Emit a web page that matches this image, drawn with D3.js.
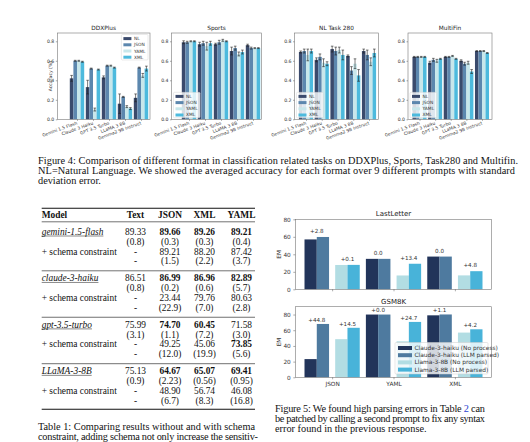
<!DOCTYPE html>
<html><head><meta charset="utf-8">
<script src="https://cdn.jsdelivr.net/npm/d3@7"></script>
<style>body{margin:0;background:#fff}svg{display:block}</style>
</head><body><svg id="c" width="530" height="442"></svg>
<script>
// ---------------- DATA ----------------
const models = ["Gemini 1.5 Flash","Claude 3 Haiku","GPT 3.5 Turbo","LLaMA 3 8B","Gemma2 9B Instruct"];
const formats = ["NL","JSON","YAML","XML"];
const yTicksTop = [0,0.2,0.4,0.6,0.8];

const ddxMean = [[0.42,0.60,0.60,0.59],[0.33,0.52,0.10,0.51],[0.43,0.55,0.55,0.53],[0.16,0.23,0.13,0.11],[0.22,0.53,0.45,0.52]];
const ddxErr  = [[0.03,0.005,0.005,0.005],[0.07,0.005,0.015,0.005],[0.015,0.005,0.005,0.005],[0.10,0.005,0.01,0.01],[0.04,0.005,0.02,0.025]];
const sportsMean = [[0.79,0.79,0.80,0.80],[0.77,0.78,0.75,0.78],[0.77,0.79,0.81,0.80],[0.70,0.73,0.67,0.69],[0.76,0.73,0.73,0.73]];
const sportsErr  = [[0.015,0.01,0.005,0.005],[0.02,0.02,0.04,0.02],[0.01,0.02,0.01,0.005],[0.04,0.02,0.02,0.02],[0.01,0.01,0.005,0.005]];
const taskMean = [[0.69,0.70,0.66,0.70],[0.61,0.64,0.58,0.57],[0.72,0.70,0.71,0.66],[0.65,0.50,0.57,0.45],[0.70,0.66,0.59,0.68]];
const taskErr  = [[0.01,0.02,0.06,0.02],[0.02,0.03,0.04,0.02],[0.03,0.04,0.03,0.05],[0.01,0.04,0.05,0.06],[0.02,0.05,0.04,0.04]];
const multiMean = [[0.64,0.64,0.64,0.64],[0.58,0.61,0.60,0.62],[0.64,0.64,0.65,0.62],[0.60,0.57,0.58,0.49],[0.70,0.70,0.70,0.68]];
const multiErr  = [[0.005,0.005,0.005,0.005],[0.015,0.015,0.015,0.005],[0.005,0.005,0.005,0.005],[0.01,0.015,0.015,0.02],[0.005,0.005,0.005,0.005]];
const topTitles = ["DDXPlus","Sports","NL Task 280","MultiFin"];

const fig5Formats = ["JSON","YAML","XML"];
const fig5Series = ["Claude-3-haiku (No process)","Claude-3-haiku (LLM parsed)","Llama-3-8B (No process)","Llama-3-8B (LLM parsed)"];
const lastClaudeNo = [57.0,34.8,37.4];
const lastClaudeParsed = [59.8,34.8,37.4];
const lastLlamaNo = [27.8,15.8,15.9];
const lastLlamaParsed = [27.9,29.2,20.7];
const lastClaudeLabels = ["+2.8","0.0","0.0"];
const lastLlamaLabels = ["+0.1","+13.4","+4.8"];
const gsmClaudeNo = [23.2,80.0,79.0];
const gsmClaudeParsed = [68.0,80.0,80.1];
const gsmLlamaNo = [48.6,45.9,57.0];
const gsmLlamaParsed = [63.1,70.6,61.2];
const gsmClaudeLabels = ["+44.8","+0.0","+1.1"];
const gsmLlamaLabels = ["+14.5","+24.7","+4.2"];
const fig5YTicks = [0,20,40,60,80];

const tableModels = ["gemini-1.5-flash","claude-3-haiku","gpt-3.5-turbo","LLaMA-3-8B"];
const tableCols = ["Text","JSON","XML","YAML"];
const baseScore = [["89.33","89.66","89.26","89.21"],["86.51","86.99","86.96","82.89"],["75.99","74.70","60.45","71.58"],["75.13","64.67","65.07","69.41"]];
const baseStd = [["(0.8)","(0.3)","(0.3)","(0.4)"],["(0.8)","(0.2)","(0.6)","(5.7)"],["(3.1)","(1.1)","(7.2)","(3.0)"],["(0.9)","(2.23)","(0.56)","(0.95)"]];
const schemaScore = [["-","89.21","88.20","87.42"],["-","23.44","79.76","80.63"],["-","49.25","45.06","73.85"],["-","48.90","56.74","46.08"]];
const schemaStd = [["-","(1.5)","(2.2)","(3.7)"],["-","(22.9)","(7.0)","(2.8)"],["-","(12.0)","(19.9)","(5.6)"],["-","(6.7)","(8.3)","(16.8)"]];
const baseBold = [[0,1,1,1],[0,1,1,1],[0,1,1,0],[0,1,1,1]];
const schemaBold = [[0,0,0,0],[0,0,0,0],[0,0,0,1],[0,0,0,0]];

const fig4Caption = ["Figure 4: Comparison of different format in classification related tasks on DDXPlus, Sports, Task280 and Multifin.",
 "NL=Natural Language. We showed the averaged accuracy for each format over 9 different prompts with standard",
 "deviation error."];
const tab1Caption = ["Table 1: Comparing results without and with schema","constraint, adding schema not only increase the sensitiv-"];
const fig5Caption = [["Figure 5: We found high parsing errors in Table ","2"," can"],["be patched by calling a second prompt to fix any syntax"],["error found in the previous response."]];

// ---------------- STYLE / LAYOUT ----------------
const topColors = ["#3a4a6c","#5c87ae","#c8e7eb","#4dbadd"];
const fig5Colors = ["#22345a","#4e7a9f","#b2dde3","#48b3d9"];
const SANS = "DejaVu Sans, sans-serif", SERIF = "Liberation Serif, Times New Roman, serif";
const svg = d3.select("#c");
svg.append("rect").attr("width",530).attr("height",442).attr("fill","#fff");

const topLayout = [
  {f0:57.3,f1:150,c0:77,c4:141,legend:"ur",ylabel:true},
  {f0:171.5,f1:261.5,c0:189,c4:253,legend:"ll"},
  {f0:294.5,f1:378.5,c0:306,c4:369,legend:"ll"},
  {f0:408,f1:492,c0:419.5,c4:482,legend:"ll"}];
const topData = [[ddxMean,ddxErr],[sportsMean,sportsErr],[taskMean,taskErr],[multiMean,multiErr]];
const topY0 = 119.3, topY1 = 33;

topLayout.forEach((L,pi)=>{
  const [mean,err] = topData[pi];
  const g = svg.append("g");
  const y = d3.scaleLinear().domain([0,0.885]).range([topY0,topY1]);
  const x = d3.scaleLinear().domain([0,4]).range([L.c0,L.c4]);
  const bw = (L.c4-L.c0)/4*0.225;
  mean.forEach((row,i)=>row.forEach((v,j)=>{
    g.append("rect").attr("x",x(i)+(j-2)*bw).attr("width",bw)
      .attr("y",y(v)).attr("height",y(0)-y(v)).attr("fill",topColors[j]);
  }));
  mean.forEach((row,i)=>row.forEach((v,j)=>{
    const cx = x(i)+(j-1.5)*bw, e = err[i][j];
    const eg = g.append("g").attr("stroke","#222").attr("stroke-width",0.6);
    eg.append("line").attr("x1",cx).attr("x2",cx).attr("y1",y(v-e)).attr("y2",y(v+e));
    [v-e,v+e].forEach(t=>eg.append("line").attr("x1",cx-1.3).attr("x2",cx+1.3).attr("y1",y(t)).attr("y2",y(t)));
  }));
  g.append("rect").attr("x",L.f0).attr("y",topY1).attr("width",L.f1-L.f0).attr("height",topY0-topY1)
    .attr("fill","none").attr("stroke","#777").attr("stroke-width",0.6);
  const ya = g.append("g").attr("transform",`translate(${L.f0},0)`)
    .call(d3.axisLeft(y).tickValues(yTicksTop).tickFormat(d3.format(".1f")).tickSize(1.5).tickPadding(1.5));
  ya.select(".domain").remove();
  ya.selectAll("line").attr("stroke","#555").attr("stroke-width",0.5);
  ya.selectAll("text").attr("font-size",4.6).attr("font-family",SANS).attr("fill","#333");
  const xa = g.append("g").attr("transform",`translate(0,${topY0})`)
    .call(d3.axisBottom(x).tickValues([0,1,2,3,4]).tickFormat(i=>models[i]).tickSize(1.5));
  xa.select(".domain").remove();
  xa.selectAll("line").attr("stroke","#555").attr("stroke-width",0.5);
  xa.selectAll("text").attr("font-size",4.4).attr("font-family",SANS).attr("fill","#333")
    .attr("text-anchor","end").attr("x",0).attr("y",0).attr("dy","0.7em")
    .attr("transform","translate(-1,2) rotate(-20)");
  g.append("text").attr("x",(L.f0+L.f1)/2).attr("y",29.5).attr("text-anchor","middle")
    .attr("font-size",5.8).attr("font-family",SANS).attr("fill","#222").text(topTitles[pi]);
  if(L.ylabel){
    g.append("text").attr("transform",`translate(52,${(topY0+topY1)/2}) rotate(-90)`).attr("text-anchor","middle")
      .attr("font-size",4.6).attr("font-family",SANS).attr("fill","#333").text("Accuracy (%)");
  }
  const lw = 26.6, lh = 25.5;
  const lx = L.legend==="ur" ? L.f1-2-lw : L.f0+2;
  const ly = L.legend==="ur" ? topY1+1.5 : topY0-1.5-lh;
  const lg = g.append("g").attr("transform",`translate(${lx},${ly})`);
  lg.append("rect").attr("width",lw).attr("height",lh).attr("rx",1).attr("fill","#fff").attr("fill-opacity",0.8)
    .attr("stroke","#ccc").attr("stroke-width",0.4);
  formats.forEach((f,j)=>{
    lg.append("rect").attr("x",2).attr("y",2.6+j*6.2).attr("width",8).attr("height",3).attr("fill",topColors[j]);
    lg.append("text").attr("x",12.5).attr("y",4.1+j*6.2).attr("dominant-baseline","central")
      .attr("font-size",4.4).attr("font-family",SANS).attr("fill","#333").text(f);
  });
});

// ---------------- FIGURE 5 ----------------
const fig5Panels = [
  {title:"LastLetter",ty:215.5,y0:289.3,y1:219.3,dmax:80,cols:[lastClaudeNo,lastClaudeParsed,lastLlamaNo,lastLlamaParsed],labs:[lastClaudeLabels,lastLlamaLabels],off:4,xlabels:false},
  {title:"GSM8K",ty:303.5,y0:377.3,y1:306.7,dmax:90,cols:[gsmClaudeNo,gsmClaudeParsed,gsmLlamaNo,gsmLlamaParsed],labs:[gsmClaudeLabels,gsmLlamaLabels],off:2.2,xlabels:true,legend:true}];
const f5x0 = 295.3, f5x1 = 491.7;
fig5Panels.forEach(P=>{
  const g = svg.append("g");
  const x = d3.scaleLinear().domain([-0.6,2.6]).range([f5x0,f5x1]);
  const y = d3.scaleLinear().domain([0,P.dmax]).range([P.y0,P.y1]);
  const offs = [-0.35,-0.15,0.15,0.35], w = 0.2;
  P.cols.forEach((arr,j)=>arr.forEach((v,i)=>{
    g.append("rect").attr("x",x(i+offs[j]-w/2)).attr("width",x(w)-x(0))
      .attr("y",y(v)).attr("height",y(0)-y(v)).attr("fill",fig5Colors[j]);
  }));
  [0,1].forEach(k=>{
    P.labs[k].forEach((t,i)=>{
      const top = Math.max(P.cols[2*k][i],P.cols[2*k+1][i]);
      g.append("text").attr("x",x(i+(k===0?-0.25:0.25))).attr("y",y(top)-P.off).attr("text-anchor","middle")
        .attr("font-size",5.6).attr("font-family",SANS).attr("fill","#333").text(t);
    });
  });
  g.append("rect").attr("x",f5x0).attr("y",P.y1).attr("width",f5x1-f5x0).attr("height",P.y0-P.y1)
    .attr("fill","none").attr("stroke","#777").attr("stroke-width",0.6);
  const ya = g.append("g").attr("transform",`translate(${f5x0},0)`)
    .call(d3.axisLeft(y).tickValues(fig5YTicks).tickSize(2).tickPadding(2.5));
  ya.select(".domain").remove();
  ya.selectAll("line").attr("stroke","#555").attr("stroke-width",0.5);
  ya.selectAll("text").attr("font-size",5.8).attr("font-family",SANS).attr("fill","#333");
  const xa = g.append("g").attr("transform",`translate(0,${P.y0})`)
    .call(d3.axisBottom(x).tickValues([0,1,2]).tickFormat(i=>P.xlabels?fig5Formats[i]:"").tickSize(2).tickPadding(2.5));
  xa.select(".domain").remove();
  xa.selectAll("line").attr("stroke","#555").attr("stroke-width",0.5);
  xa.selectAll("text").attr("font-size",5.8).attr("font-family",SANS).attr("fill","#333");
  g.append("text").attr("x",(f5x0+f5x1)/2).attr("y",P.ty).attr("text-anchor","middle")
    .attr("font-size",7).attr("font-family",SANS).attr("fill","#222").text(P.title);
  g.append("text").attr("transform",`translate(281,${(P.y0+P.y1)/2}) rotate(-90)`).attr("text-anchor","middle")
    .attr("font-size",5.8).attr("font-family",SANS).attr("fill","#333").text("EM");
  if(P.legend){
    const lg = g.append("g").attr("transform","translate(395,342.5)");
    lg.append("rect").attr("width",93).attr("height",31.5).attr("rx",1.2).attr("fill","#fff").attr("fill-opacity",0.8)
      .attr("stroke","#ccc").attr("stroke-width",0.5);
    fig5Series.forEach((s,j)=>{
      lg.append("rect").attr("x",3).attr("y",3.5+j*7.2).attr("width",14).attr("height",4).attr("fill",fig5Colors[j]);
      lg.append("text").attr("x",19.5).attr("y",5.5+j*7.2).attr("dominant-baseline","central")
        .attr("font-size",5.9).attr("font-family",SANS).attr("fill","#333").text(s);
    });
  }
});

// ---------------- CAPTIONS ----------------
const capG = svg.append("g").attr("font-family",SERIF).attr("fill","#111");
fig4Caption.forEach((t,i)=>{
  const el = capG.append("text").attr("x",38).attr("y",164.3+i*9.6).attr("font-size",10.3).text(t);
  if(i<2) el.attr("textLength",[480,477][i]).attr("lengthAdjust","spacing");
});
tab1Caption.forEach((t,i)=>{
  capG.append("text").attr("x",38).attr("y",430+i*10.2).attr("font-size",10.3)
    .attr("textLength",[217,220][i]).attr("lengthAdjust","spacing").text(t);
});
fig5Caption.forEach((parts,i)=>{
  const el = capG.append("text").attr("x",275).attr("y",411.8+i*10).attr("font-size",10.3);
  parts.forEach((p,k)=>el.append("tspan").attr("fill",k===1?"#2a3fd0":"#111").text(p));
  if(i<2) el.attr("textLength",210).attr("lengthAdjust","spacing");
});

// ---------------- TABLE 1 ----------------
const tg = svg.append("g").attr("font-family",SERIF).attr("fill","#111").attr("font-size",9.4);
const tX0 = 41.7, tX1 = 255;
const colX = [135.5,170,204.5,241.5];
const rule = (yy,w)=>tg.append("line").attr("x1",tX0).attr("x2",tX1).attr("y1",yy).attr("y2",yy).attr("stroke","#111").attr("stroke-width",w);
rule(208.3,1.1); rule(221.8,0.6); rule(409.2,1.1);
tg.append("text").attr("x",tX0).attr("y",215).attr("dominant-baseline","central").attr("font-weight","bold").text("Model");
tableCols.forEach((c,j)=>tg.append("text").attr("x",colX[j]).attr("y",215).attr("dominant-baseline","central")
  .attr("text-anchor","middle").attr("font-weight","bold").text(c));
tableModels.forEach((m,k)=>{
  const by = 231.7 + k*46.45;
  const nm = tg.append("text").attr("x",tX0).attr("y",by).attr("dominant-baseline","central").attr("font-style","italic").text(m);
  const len = nm.node().getComputedTextLength();
  tg.append("line").attr("x1",tX0).attr("x2",tX0+len).attr("y1",by+4.3).attr("y2",by+4.3).attr("stroke","#111").attr("stroke-width",0.5);
  tg.append("text").attr("x",tX0).attr("y",by+19.8).attr("dominant-baseline","central").text("+ schema constraint");
  const rows = [[baseScore[k],baseBold[k]],[baseStd[k],null],[schemaScore[k],schemaBold[k]],[schemaStd[k],null]];
  rows.forEach(([vals,bold],r)=>vals.forEach((v,j)=>{
    tg.append("text").attr("x",colX[j]).attr("y",by+r*9.9).attr("dominant-baseline","central")
      .attr("text-anchor","middle").attr("font-weight",bold&&bold[j]?"bold":"normal").text(v);
  }));
  if(k<3) rule(by+39.1,0.6);
});
</script></body></html>
